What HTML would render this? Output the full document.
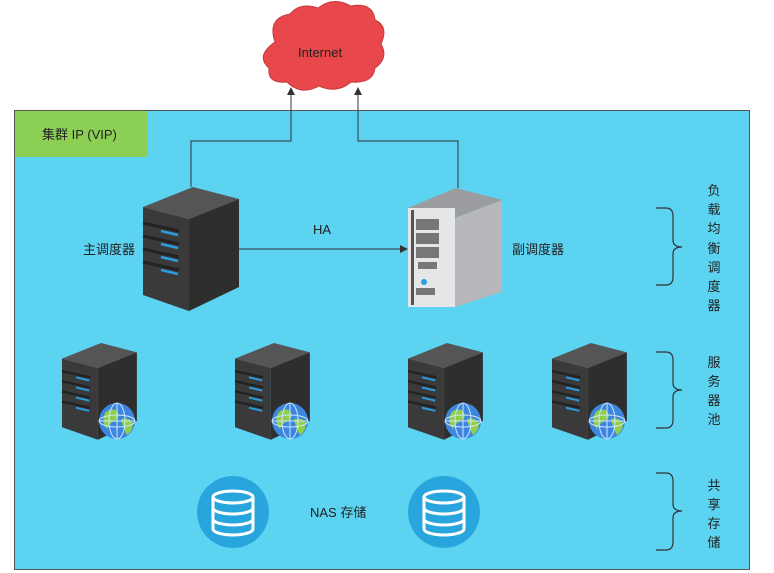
<!DOCTYPE html>
<html><head><meta charset="utf-8"><style>
body{margin:0;background:#fff}
svg{display:block}
text{font-family:"Liberation Sans","Noto Sans CJK SC",sans-serif;font-size:13px;fill:#222}
</style></head><body>
<svg width="774" height="573" viewBox="0 0 774 573" xmlns="http://www.w3.org/2000/svg">
<defs>
<marker id="ar" markerWidth="8" markerHeight="8" refX="7" refY="4" orient="auto" markerUnits="userSpaceOnUse"><path d="M0,0 L8,4 L0,8 Z" fill="#333"/></marker>
<g id="srv">
 <polygon points="0,20 50,0 96,12 46,32" fill="#555"/>
 <polygon points="0,20 46,32 46,124 0,108" fill="#3a3a3a"/>
 <polygon points="46,32 96,12 96,100 46,124" fill="#2e2e2e"/>
 <g stroke="#222" stroke-width="3"><line x1="0" y1="36" x2="36" y2="44"/><line x1="0" y1="49" x2="36" y2="57"/><line x1="0" y1="62" x2="36" y2="70"/><line x1="0" y1="75" x2="36" y2="83"/></g>
 <g stroke="#2a9de0" stroke-width="2.5"><line x1="18" y1="44" x2="35" y2="48"/><line x1="18" y1="57" x2="35" y2="61"/><line x1="18" y1="70" x2="35" y2="74"/><line x1="18" y1="83" x2="35" y2="87"/></g>
</g>
<g id="globe">
 <circle r="18" fill="#3d86e0"/>
 <path d="M-12,-8 q6,-6 12,-2 q4,6 -2,10 q-6,2 -8,8 q-6,-6 -2,-16z M4,-2 q8,-2 12,4 q0,8 -6,12 q-4,-6 -6,-16z" fill="#8fcf4a"/>
 <g stroke="#cfe6ff" stroke-width="1" fill="none"><ellipse rx="8" ry="18"/><ellipse rx="18" ry="6"/><line x1="-18" y1="0" x2="18" y2="0"/><line x1="0" y1="-18" x2="0" y2="18"/></g>
</g>
<g id="db">
 <circle r="36" fill="#29a5dd"/>
 <g fill="none" stroke="#fff" stroke-width="3"><ellipse cx="0" cy="-15" rx="20" ry="6"/><path d="M-20,-15 V17 A20,6 0 0 0 20,17 V-15 M-20,-4 A20,6 0 0 0 20,-4 M-20,7 A20,6 0 0 0 20,7"/></g>
</g>
</defs>
<rect x="14.5" y="110.5" width="735" height="459" fill="#5bd3f1" stroke="#555"/>
<rect x="15" y="111" width="133" height="46" fill="#8ccf55"/>
<text x="42" y="139">集群 IP (VIP)</text>
<path d="M275,42 q-8,-24 15,-28 q10,-12 28,-6 q15,-12 33,-2 q22,-4 24,14 q14,6 6,24 q8,14 -6,24 q-2,16 -24,14 q-14,12 -32,4 q-18,10 -32,-4 q-20,2 -18,-14 q-14,-12 6,-26z" fill="#e8474c" stroke="#c53a3e"/>
<text x="298" y="57">Internet</text>
<g stroke="#333" stroke-width="1" fill="none">
<polyline points="191,187 191,141 291,141 291,88" marker-end="url(#ar)"/>
<polyline points="458,188 458,141 358,141 358,88" marker-end="url(#ar)"/>
<line x1="239" y1="249" x2="407" y2="249" marker-end="url(#ar)"/>
</g>
<text x="313" y="234">HA</text>
<use href="#srv" x="143" y="187"/>
<text x="83" y="254">主调度器</text>
<polygon points="408,208 456,188 502,200 455,218" fill="#9a9ca0"/>
<polygon points="455,218 502,200 502,292 455,307" fill="#b6b8bc"/>
<rect x="408" y="208" width="47" height="99" fill="#e4e6e8"/>
<rect x="411" y="210" width="3" height="95" fill="#555"/>
<g fill="#777"><rect x="416" y="219" width="23" height="11"/><rect x="416" y="233" width="23" height="11"/><rect x="416" y="247" width="23" height="11"/><rect x="418" y="262" width="19" height="7"/><rect x="416" y="288" width="19" height="7"/></g>
<circle cx="424" cy="282" r="3" fill="#2a9de0"/>
<text x="512" y="254">副调度器</text>
<g transform="translate(62,343) scale(0.78)"><use href="#srv"/></g>
<g transform="translate(235,343) scale(0.78)"><use href="#srv"/></g>
<g transform="translate(408,343) scale(0.78)"><use href="#srv"/></g>
<g transform="translate(552,343) scale(0.78)"><use href="#srv"/></g>
<use href="#globe" x="117" y="421"/>
<use href="#globe" x="290" y="421"/>
<use href="#globe" x="463" y="421"/>
<use href="#globe" x="607" y="421"/>
<use href="#db" x="233" y="512"/>
<use href="#db" x="444" y="512"/>
<text x="310" y="517">NAS 存储</text>
<g fill="none" stroke="#333" stroke-width="1.2">
<path d="M656,208 h10 q7,0 7,8 v24 q0,7 9,7 q-9,0 -9,7 v23 q0,8 -7,8 h-10"/>
<path d="M656,352 h10 q7,0 7,8 v23 q0,7 9,7 q-9,0 -9,7 v23 q0,8 -7,8 h-10"/>
<path d="M656,473 h10 q7,0 7,8 v23 q0,7 9,7 q-9,0 -9,7 v24 q0,8 -7,8 h-10"/>
</g>
<g text-anchor="middle">
<text x="714" y="195">负</text><text x="714" y="214">载</text><text x="714" y="233">均</text><text x="714" y="253">衡</text><text x="714" y="272">调</text><text x="714" y="291">度</text><text x="714" y="310">器</text>
<text x="714" y="367">服</text><text x="714" y="386">务</text><text x="714" y="405">器</text><text x="714" y="424">池</text>
<text x="714" y="490">共</text><text x="714" y="509">享</text><text x="714" y="528">存</text><text x="714" y="547">储</text>
</g>
</svg>
</body></html>
